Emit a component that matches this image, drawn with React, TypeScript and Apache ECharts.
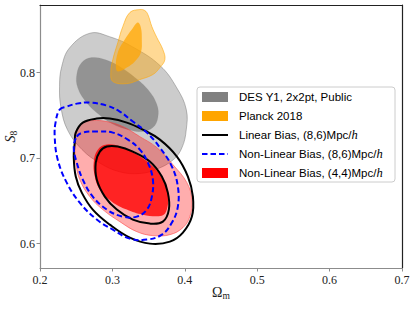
import React, { useEffect, useRef } from 'react';
import * as echarts from 'echarts';

// Axis ticks and range
const xTicks = [0.2, 0.3, 0.4, 0.5, 0.6, 0.7];
const yTicks = [0.6, 0.7, 0.8];
const xRange = [0.2, 0.7];
const yRange = [0.5715, 0.879];

const legendNames = [
  'DES Y1, 2x2pt, Public',
  'Planck 2018',
  'Linear Bias, (8,6)Mpc/',
  'Non-Linear Bias, (8,6)Mpc/',
  'Non-Linear Bias, (4,4)Mpc/',
];

// Contours: [Omega_m, S8]
const desOuter = [
  [0.269, 0.846], [0.296, 0.842], [0.328, 0.830], [0.366, 0.808], [0.389, 0.782], [0.402, 0.757],
  [0.402, 0.733], [0.396, 0.712], [0.384, 0.698], [0.361, 0.687], [0.338, 0.682], [0.310, 0.684],
  [0.283, 0.694], [0.258, 0.710], [0.238, 0.733], [0.229, 0.759], [0.227, 0.784], [0.230, 0.807],
  [0.241, 0.829],
];
const desInner = [
  [0.2715, 0.8175], [0.2895, 0.8152], [0.310, 0.807], [0.331, 0.7942], [0.349, 0.7801], [0.3614, 0.7626],
  [0.3628, 0.7474], [0.3559, 0.7357], [0.3406, 0.731], [0.3213, 0.7333], [0.2992, 0.7404], [0.2798, 0.752],
  [0.2632, 0.7661], [0.2521, 0.7825], [0.2508, 0.7977], [0.2577, 0.8117],
];
const planckOuter = [
  [0.3379, 0.8737], [0.3241, 0.8702], [0.3144, 0.8538], [0.3075, 0.8351], [0.3006, 0.8152], [0.2978, 0.800],
  [0.3006, 0.7895], [0.3199, 0.7871], [0.3379, 0.7918], [0.3559, 0.7977], [0.3656, 0.8058], [0.3725, 0.8152],
  [0.3697, 0.8269], [0.3614, 0.8409], [0.3545, 0.8538], [0.349, 0.8678], [0.3448, 0.8725],
];
const planckInner = [
  [0.3351, 0.8585], [0.3268, 0.8503], [0.3171, 0.8386], [0.3075, 0.8234], [0.3047, 0.807], [0.3075, 0.8012],
  [0.3199, 0.8058], [0.331, 0.8129], [0.3393, 0.8234], [0.3406, 0.8386], [0.3393, 0.8526],
];
const nl44Outer = [
  [0.2508, 0.7333], [0.2591, 0.7415], [0.2729, 0.7439], [0.2923, 0.7427], [0.3144, 0.7368], [0.3379, 0.7251],
  [0.3614, 0.7123], [0.3835, 0.6924], [0.4029, 0.6713], [0.4098, 0.6515], [0.407, 0.6316], [0.3974, 0.6187],
  [0.3794, 0.6105], [0.3559, 0.6094], [0.3337, 0.614], [0.3102, 0.6257], [0.2867, 0.6398], [0.2687, 0.655],
  [0.2549, 0.6749], [0.2494, 0.6947], [0.248, 0.7135], [0.248, 0.7275],
];
const nl44Inner = [
  [0.2923, 0.7158], [0.2798, 0.7099], [0.2743, 0.6959], [0.2757, 0.6784], [0.2826, 0.6632], [0.2992, 0.6491],
  [0.3199, 0.6398], [0.342, 0.6339], [0.3683, 0.6327], [0.3752, 0.6398], [0.3766, 0.6596], [0.3697, 0.6749],
  [0.3559, 0.6901], [0.3337, 0.7041], [0.3102, 0.7135],
];
const linOuter = [
  [0.2494, 0.7298], [0.2591, 0.7415], [0.2784, 0.7462], [0.2964, 0.7462], [0.3199, 0.7415], [0.342, 0.7333],
  [0.3656, 0.7216], [0.3891, 0.7018], [0.4043, 0.6784], [0.4112, 0.655], [0.4098, 0.6316], [0.3974, 0.6129],
  [0.3794, 0.6023], [0.3517, 0.6], [0.3241, 0.607], [0.2964, 0.6222], [0.2729, 0.6398], [0.2577, 0.6596],
  [0.2494, 0.6784], [0.2466, 0.7018], [0.248, 0.7181],
];
const linInner = [
  [0.2923, 0.7135], [0.2826, 0.7076], [0.277, 0.6947], [0.2784, 0.6749], [0.2895, 0.655], [0.3061, 0.6398],
  [0.3282, 0.6281], [0.3517, 0.6234], [0.3697, 0.6257], [0.378, 0.6398], [0.3766, 0.6596], [0.3683, 0.6784],
  [0.3517, 0.6959], [0.3282, 0.7076], [0.3075, 0.7135],
];
const nl86Outer = [
  [0.2272, 0.7567], [0.2369, 0.7602], [0.2508, 0.7637], [0.2687, 0.7649], [0.2923, 0.7614], [0.3102, 0.7544],
  [0.3282, 0.7427], [0.3476, 0.7298], [0.3656, 0.7123], [0.3822, 0.6901], [0.3904, 0.6667], [0.3904, 0.6433],
  [0.3822, 0.6246], [0.3683, 0.6105], [0.3476, 0.6047], [0.3241, 0.6058], [0.3006, 0.6164], [0.2784, 0.6281],
  [0.2549, 0.6479], [0.2369, 0.6713], [0.2245, 0.6982], [0.2203, 0.7251], [0.2217, 0.7427],
];
const nl86Inner = [
  [0.2508, 0.7251], [0.2591, 0.7298], [0.2784, 0.731], [0.3006, 0.7298], [0.3213, 0.7216], [0.3379, 0.7099],
  [0.349, 0.6947], [0.3559, 0.6749], [0.3545, 0.655], [0.3476, 0.6398], [0.3337, 0.6316], [0.3144, 0.6316],
  [0.2923, 0.6398], [0.2729, 0.655], [0.2591, 0.6749], [0.2508, 0.6947], [0.2466, 0.7123],
];

function contour(name: string, pts: number[][], style: any, z: number) {
  return {
    type: 'custom',
    name,
    coordinateSystem: 'cartesian2d',
    xAxisIndex: 0,
    yAxisIndex: 0,
    clip: true,
    silent: true,
    z,
    data: pts,
    renderItem: (params: any, api: any) => {
      if (params.dataIndex !== 0) return null;
      return {
        type: 'polygon',
        shape: { points: pts.map((p) => api.coord(p)), smooth: 0.4 },
        style,
      };
    },
  };
}

const serif = 'Liberation Serif';
const sans = 'Liberation Sans';

export default function App() {
  const ref = useRef<HTMLDivElement>(null);
  useEffect(() => {
    const chart = echarts.init(ref.current!, null, { renderer: 'svg' });
    const rowY = [97, 116, 135, 154, 173];
    const legendItems: any[] = [
      {
        type: 'rect', shape: { x: 197, y: 87, width: 198, height: 95, r: 3 },
        style: { fill: 'rgba(255,255,255,0.85)', stroke: '#cccccc', lineWidth: 1 }, z: 100,
      },
      { type: 'rect', shape: { x: 202, y: rowY[0] - 5, width: 26, height: 10 }, style: { fill: '#808080' }, z: 101 },
      { type: 'rect', shape: { x: 202, y: rowY[1] - 5, width: 26, height: 10 }, style: { fill: '#ffa500' }, z: 101 },
      { type: 'line', shape: { x1: 202, y1: rowY[2], x2: 228, y2: rowY[2] }, style: { stroke: '#000', lineWidth: 2 }, z: 101 },
      { type: 'line', shape: { x1: 202, y1: rowY[3], x2: 228, y2: rowY[3] }, style: { stroke: '#0000ff', lineWidth: 2, lineDash: [5.5, 3] }, z: 101 },
      { type: 'rect', shape: { x: 202, y: rowY[4] - 5, width: 26, height: 10 }, style: { fill: '#ff0000' }, z: 101 },
    ];
    legendNames.forEach((n, i) => {
      const withH = i >= 2;
      legendItems.push({
        type: 'text', x: 239, y: rowY[i], z: 101,
        style: {
          text: withH ? `{a|${n}}{h|h}` : `{a|${n}}`,
          verticalAlign: 'middle', align: 'left',
          rich: {
            a: { fontFamily: sans, fontSize: 11.5, fill: '#000' },
            h: { fontFamily: serif, fontStyle: 'italic', fontSize: 12.5, fill: '#000' },
          },
        },
      });
    });

    const option: any = {
      animation: false,
      grid: { left: 40, right: 13, top: 5, bottom: 42, containLabel: false, outerBoundsMode: 'none' },
      xAxis: [
        {
          type: 'value', min: xRange[0], max: xRange[1], interval: 0.1,
          axisLine: { lineStyle: { color: '#8c8c8c', width: 1.2 } },
          axisTick: { show: true, length: 3.5, inside: false, customValues: xTicks, lineStyle: { color: '#8c8c8c' } },
          axisLabel: { customValues: xTicks, margin: 6, fontFamily: serif, fontSize: 12, color: '#222', formatter: (v: number) => v.toFixed(1) },
          splitLine: { show: false },
          name: '{o|Ω}{m|m}', nameLocation: 'middle', nameGap: 15, nameMoveOverlap: false,
          nameTextStyle: {
            rich: {
              o: { fontFamily: serif, fontSize: 14, color: '#222' },
              m: { fontFamily: serif, fontSize: 9.5, color: '#222', padding: [8, 0, 0, 0] },
            },
          },
        },
        {
          type: 'value', position: 'top', min: xRange[0], max: xRange[1],
          axisLine: { show: true, lineStyle: { color: '#222', width: 1.2 } },
          axisTick: { show: false }, axisLabel: { show: false }, splitLine: { show: false },
        },
      ],
      yAxis: [
        {
          type: 'value', min: yRange[0], max: yRange[1],
          axisLine: { show: true, lineStyle: { color: '#8c8c8c', width: 1.2 } },
          axisTick: { show: true, length: 3.5, inside: false, customValues: yTicks, lineStyle: { color: '#8c8c8c' } },
          axisLabel: { customValues: yTicks, margin: 5, fontFamily: serif, fontSize: 12, color: '#222', formatter: (v: number) => v.toFixed(1) },
          splitLine: { show: false },
          name: '{s|S}{e|8}', nameLocation: 'middle', nameGap: 21, nameRotate: 90, nameMoveOverlap: false,
          nameTextStyle: {
            rich: {
              s: { fontFamily: serif, fontStyle: 'italic', fontSize: 14, color: '#222' },
              e: { fontFamily: serif, fontSize: 9.5, color: '#222', padding: [8, 0, 0, 0] },
            },
          },
        },
        {
          type: 'value', position: 'right', min: yRange[0], max: yRange[1],
          axisLine: { show: true, lineStyle: { color: '#222', width: 1.2 } },
          axisTick: { show: false }, axisLabel: { show: false }, splitLine: { show: false },
        },
      ],
      series: [
        contour('desOuter', desOuter, { fill: 'rgba(128,128,128,0.4)', stroke: 'rgba(110,110,110,0.45)', lineWidth: 1 }, 1),
        contour('desInner', desInner, { fill: 'rgba(128,128,128,0.75)', stroke: 'rgba(128,128,128,0.3)', lineWidth: 0.5 }, 2),
        contour('planckOuter', planckOuter, { fill: 'rgba(255,165,0,0.42)', stroke: 'rgba(255,165,0,0.55)', lineWidth: 1 }, 3),
        contour('planckInner', planckInner, { fill: 'rgba(255,165,0,0.72)', stroke: 'none' }, 4),
        contour('nl44Outer', nl44Outer, { fill: 'rgba(255,0,0,0.32)', stroke: 'rgba(255,60,60,0.55)', lineWidth: 1 }, 5),
        contour('nl44Inner', nl44Inner, { fill: 'rgba(255,0,0,0.8)', stroke: 'none' }, 6),
        contour('linOuter', linOuter, { fill: 'none', stroke: '#000', lineWidth: 2 }, 7),
        contour('linInner', linInner, { fill: 'none', stroke: '#000', lineWidth: 2 }, 7),
        contour('nl86Outer', nl86Outer, { fill: 'none', stroke: '#0000ff', lineWidth: 2, lineDash: [5.5, 3] }, 8),
        contour('nl86Inner', nl86Inner, { fill: 'none', stroke: '#0000ff', lineWidth: 2, lineDash: [5.5, 3] }, 8),
      ],
      graphic: legendItems,
    };
    chart.setOption(option);
    return () => chart.dispose();
  }, []);
  return <div ref={ref} style={{ position: 'fixed', left: 0, top: 0, width: 415, height: 310, background: '#fff' }} />;
}
